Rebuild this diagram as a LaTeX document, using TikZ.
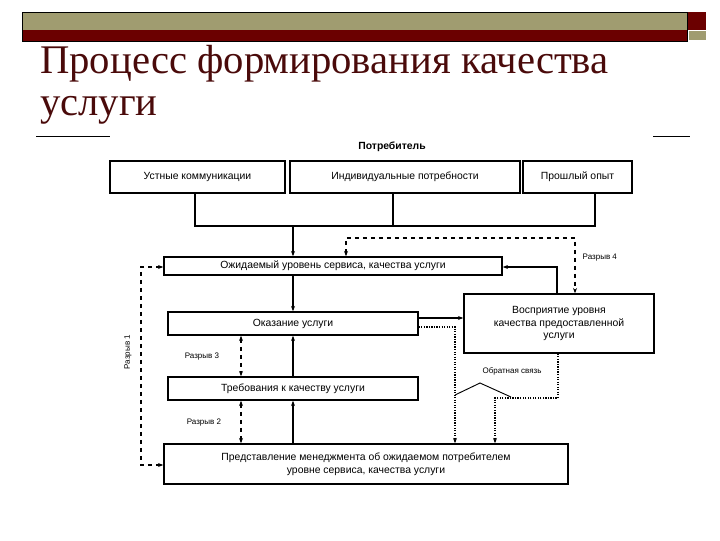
\documentclass[tikz,border=0pt]{standalone}
\usepackage{fontspec}
\setmainfont{Liberation Sans}
\newfontfamily\titlefont{Liberation Serif}
\usetikzlibrary{arrows.meta}
\definecolor{olive}{HTML}{A09C70}
\definecolor{dred}{HTML}{6B0000}
\definecolor{ttl}{HTML}{4A0A0A}
\begin{document}
\begin{tikzpicture}[x=0.75pt,y=-0.75pt,
  bx/.style={draw,line width=1.1pt,inner sep=0pt,font=\fontsize{7.8}{9.4}\selectfont,align=center},
  lbl/.style={font=\fontsize{6}{7}\selectfont},
  sol/.style={line width=1.3pt},
  dsh/.style={line width=1pt,dashed},
  dot/.style={line width=0.9pt,densely dotted},
  tip/.style={-{Stealth[length=4pt,width=3pt]}},
  tips/.style={{Stealth[length=4pt,width=3pt]}-{Stealth[length=4pt,width=3pt]}}]
\useasboundingbox (0,0) rectangle (720,540);
% header decoration
\fill[olive] (22,12) rectangle (687,30);
\fill[dred] (22,30) rectangle (687,41);
\fill[dred] (688,12) rectangle (706,30);
\fill[olive] (689,31) rectangle (706,40);
\draw[line width=0.6pt] (22,12) rectangle (687,41);
\node[anchor=base west,text=ttl,font=\titlefont\fontsize{30.5}{34}\selectfont,inner sep=0] (t1) at (40,73) {Процесс формирования качества};
\node[anchor=base west,text=ttl,font=\titlefont\fontsize{30.5}{34}\selectfont,inner sep=0] (t2) at (40,115) {услуги};
\draw[line width=0.6pt] (36,136) -- (110,136);
\draw[line width=0.6pt] (653,136) -- (690,136);
% nodes
\node[font=\bfseries\fontsize{7.8}{9}\selectfont] (p) at (392,147) {Потребитель};
\node[bx,minimum width=175*0.75pt,minimum height=32*0.75pt] (ut) at (197.5,177) {Устные коммуникации};
\node[bx,minimum width=230*0.75pt,minimum height=32*0.75pt] (in) at (405,177) {Индивидуальные потребности};
\node[bx,minimum width=109*0.75pt,minimum height=32*0.75pt] (po) at (577.5,177) {Прошлый опыт};
\node[bx,minimum width=338*0.75pt,minimum height=18*0.75pt] (oz) at (333,266) {Ожидаемый уровень сервиса, качества услуги};
\node[bx,minimum width=250*0.75pt,minimum height=23*0.75pt] (ok) at (293,323.5) {Оказание услуги};
\node[bx,minimum width=190*0.75pt,minimum height=59*0.75pt] (vo) at (559,323.5) {Восприятие уровня\\качества предоставленной\\услуги};
\node[bx,minimum width=250*0.75pt,minimum height=23*0.75pt] (tr) at (293,388.5) {Требования к качеству услуги};
\node[bx,minimum width=404*0.75pt,minimum height=40*0.75pt] (pr) at (366,464) {Представление менеджмента об ожидаемом потребителем\\уровне сервиса, качества услуги};
% top connectors
\coordinate (j1) at (195,226); \coordinate (j3) at (595,226);
\draw[sol] (ut.south -| 195,0) -- (j1) -- (j3) -- (po.south -| 595,0);
\draw[sol] (in.south -| 393,0) -- (393,226);
\draw[sol,tip] (293,226) -- (oz.north -| 293,0);
\draw[sol,tip] (oz.south -| 293,0) -- (ok.north -| 293,0);
\draw[sol,tip] (ok.east |- 0,318) -- (vo.west |- 0,318);
\draw[sol,tip] (vo.north -| 557,0) -- (557,267) -- (oz.east |- 0,267);
\draw[sol,tip] (tr.north -| 293,0) -- (ok.south -| 293,0);
\draw[sol,tip] (pr.north -| 293,0) -- (tr.south -| 293,0);
% gaps
\draw[dsh,tips] (oz.north -| 346,0) -- (346,238) -- (575,238) -- (vo.north -| 575,0);
\node[lbl,anchor=west] (g4) at (578,258) {Разрыв 4};
\draw[dsh,tips] (ok.south -| 241,0) -- (tr.north -| 241,0);
\node[lbl] (g3) at (202,357) {Разрыв 3};
\draw[dsh,tips] (tr.south -| 241,0) -- (pr.north -| 241,0);
\node[lbl] (g2) at (204,423) {Разрыв 2};
\draw[dsh,tips] (oz.west |- 0,267) -- (141,267) -- (141,465) -- (pr.west |- 0,465);
\node[lbl,rotate=90] (g1) at (128,352) {Разрыв 1};
% feedback
\draw[dot,tip] (ok.east |- 0,327) -- (455,327) -- (pr.north -| 455,0);
\draw[dot,tip] (vo.south -| 558,0) -- (558,398) -- (495,398) -- (pr.north -| 495,0);
\draw[line width=0.7pt] (455,395) -- (480,383) -- (511,397);
\node[lbl] (fb) at (512,371) {Обратная связь};
\end{tikzpicture}
\end{document}
